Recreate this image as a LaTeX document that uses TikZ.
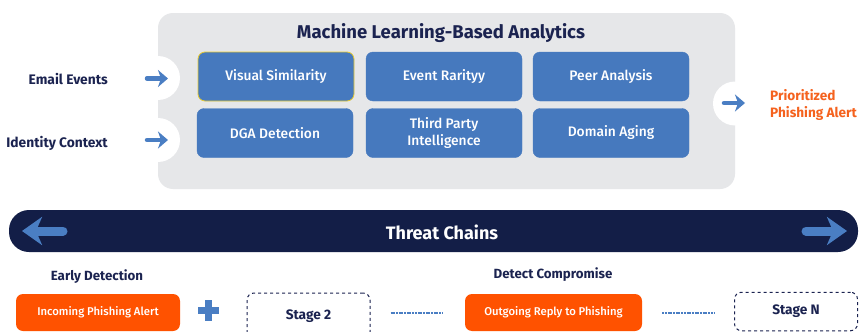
\documentclass[tikz,border=0pt]{standalone}
\usepackage{fontspec}
\setmainfont{Fira Sans}
\newfontfamily\fmed{Fira Sans Medium}
\usetikzlibrary{arrows.meta}
\definecolor{panelgray}{HTML}{E6E7E9}
\definecolor{boxblue}{HTML}{4679BE}
\definecolor{navytext}{HTML}{1B2350}
\definecolor{barnavy}{HTML}{131E47}
\definecolor{arrblue}{HTML}{4A7EC3}
\definecolor{alertorange}{HTML}{FF5200}
\definecolor{textorange}{HTML}{F5621E}
\definecolor{hiyellow}{HTML}{E8CB2F}
\tikzset{
  mlbox/.style={fill=boxblue, draw=boxblue, rounded corners=7pt, minimum width=156pt, minimum height=49pt,
    text=white, align=center, font=\fmed\fontsize{13.8}{17.5}\selectfont, inner sep=0pt},
  bump/.style={circle, fill=white, minimum size=44pt, inner sep=0pt},
  sidelabel/.style={text=navytext, font=\bfseries\fontsize{13.8}{16}\selectfont, inner sep=0pt},
  smallarr/.style={draw=arrblue, line width=4.5pt, line cap=round, -{Stealth[length=10pt, width=17pt, inset=3pt]}},
  bigarr/.style={draw=arrblue, line width=9pt, line cap=round, -{Stealth[length=20pt, width=28pt, inset=6pt]}},
  alertbox/.style={fill=alertorange, rounded corners=7pt, minimum height=37pt, text=white,
    font=\fmed\fontsize{11.3}{13}\selectfont, inner sep=0pt},
  stagebox/.style={draw=navytext, dashed, line width=1pt, rounded corners=7pt, minimum width=123pt,
    text=navytext, font=\bfseries\fontsize{13.7}{16}\selectfont, inner sep=0pt},
  phaselabel/.style={text=navytext, font=\bfseries\fontsize{13.3}{15}\selectfont, inner sep=0pt},
  dotline/.style={draw=arrblue, line width=2pt, dash pattern=on 2pt off 0.7pt}
}
\begin{document}
\begin{tikzpicture}[x=1pt,y=-1pt]
\useasboundingbox (0,0) rectangle (860,332);
\clip (0,0) rectangle (860,332);
\fill[white] (0,0) rectangle (860,332);
% panel
\node[fill=panelgray, rounded corners=15pt, minimum width=577pt, minimum height=176pt, inner sep=0pt] (panel) at (446.5,101) {};
\node[text=navytext, font=\bfseries\fontsize{18.5}{21}\selectfont, inner sep=0pt] (title) at (441,33) {Machine Learning-Based Analytics};
% bumps
\node[bump] (bumpA) at (158,78) {};
\node[bump] (bumpB) at (158,140) {};
\node[bump] (bumpC) at (735,103.5) {};
% boxes
\node[mlbox, draw=hiyellow, line width=0.8pt] (vis) at (276,76.5) {Visual Similarity};
\node[mlbox] (rar) at (444,76.5) {Event Rarityy};
\node[mlbox] (peer) at (611,76.5) {Peer Analysis};
\node[mlbox] (dga) at (275,133) {DGA Detection};
\node[mlbox] (tpi) at (444,133) {Third Party\\Intelligence};
\node[mlbox] (dom) at (611,133) {Domain Aging};
% inputs
\node[sidelabel, anchor=east] (email) at (108,79) {Email Events};
\node[sidelabel, anchor=east] (ident) at (108,143) {Identity Context};
\coordinate (ea1) at (147,78.5);
\coordinate (ea2) at (168,78.5);
\coordinate (ia1) at (147,140);
\coordinate (ia2) at (168,140);
\draw[smallarr] (ea1) -- (ea2);
\draw[smallarr] (ia1) -- (ia2);
% output
\coordinate (oa1) at (724,103);
\coordinate (oa2) at (745,103);
\draw[smallarr] (oa1) -- (oa2);
\node[text=textorange, font=\bfseries\fontsize{13.6}{16.5}\selectfont, align=left, anchor=west, inner sep=0pt] (prio) at (770,105) {Prioritized\\Phishing Alert};
% threat chain bar
\node[fill=barnavy, rounded corners=20pt, minimum width=849pt, minimum height=42pt, inner sep=0pt] (bar) at (433.5,231) {};
\node[text=white, font=\bfseries\fontsize{18}{21}\selectfont, inner sep=0pt] (tc) at (442,232) {Threat Chains};
\coordinate (la1) at (63,231);
\coordinate (la2) at (22,231);
\coordinate (ra1) at (806,231);
\coordinate (ra2) at (847,231);
\draw[bigarr] (la1) -- (la2);
\draw[bigarr] (ra1) -- (ra2);
% bottom row
\node[phaselabel] (early) at (97,277) {Early Detection};
\node[phaselabel] (detect) at (553,275) {Detect Compromise};
\node[alertbox, minimum width=164pt] (inc) at (98,312.5) {Incoming Phishing Alert};
\node[alertbox, minimum width=177pt] (outg) at (553.5,312.5) {Outgoing Reply to Phishing};
\node[stagebox, minimum height=46pt] (s2) at (308.5,316) {Stage 2};
\node[stagebox, minimum height=38.5pt] (sN) at (796,311.5) {Stage N};
% plus
\node[fill=arrblue, minimum width=21pt, minimum height=7pt, inner sep=0pt] (plusH) at (208.5,310.5) {};
\node[fill=arrblue, minimum width=7pt, minimum height=21pt, inner sep=0pt] (plusV) at (208.5,310.5) {};
% dotted connectors
\draw[dotline, shorten <=20pt, shorten >=22pt] (s2.east |- outg.west) -- (outg.west);
\draw[dotline, shorten <=20pt, shorten >=19pt] (outg.east) -- (sN.west |- outg.east);
\end{tikzpicture}
\end{document}
